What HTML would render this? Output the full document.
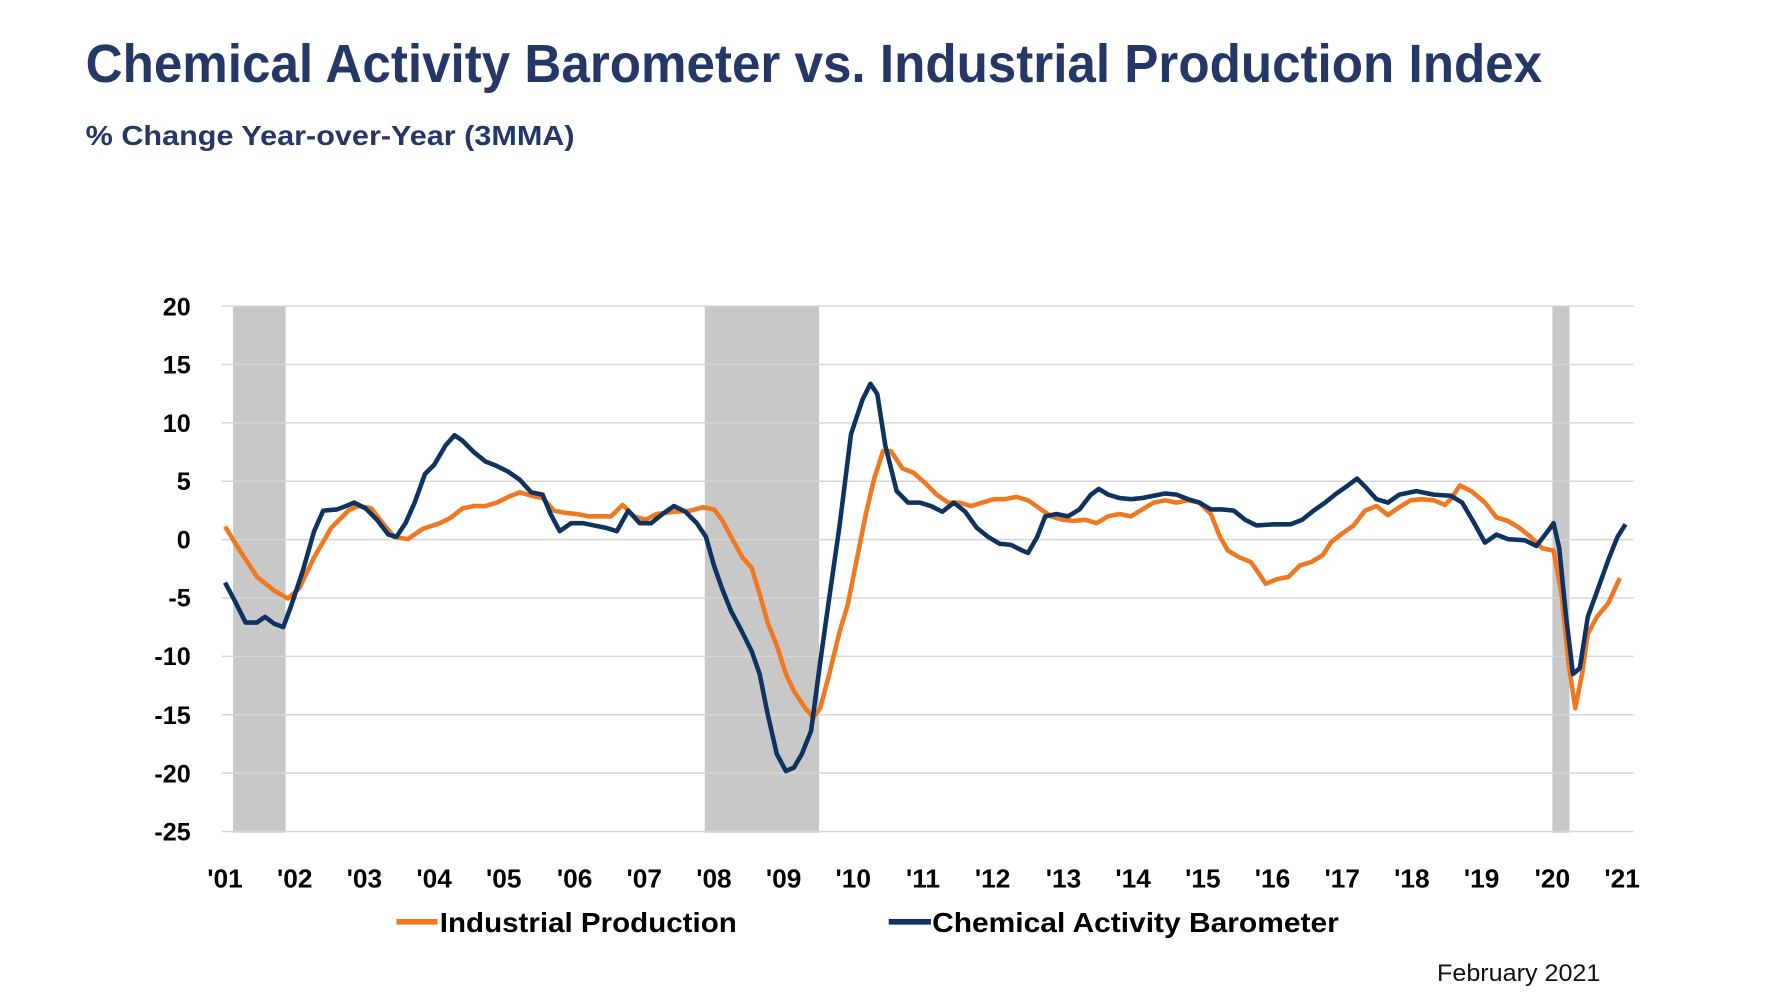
<!DOCTYPE html>
<html><head><meta charset="utf-8"><style>
html,body{margin:0;padding:0;background:#fff;}
svg{display:block;}
</style></head><body>
<svg width="1782" height="1002" viewBox="0 0 1560 877.2" preserveAspectRatio="none" xmlns="http://www.w3.org/2000/svg">
<rect width="1560" height="877.2" fill="#fff"/>
<text x="75" y="72" font-family="Liberation Sans, sans-serif" font-weight="bold" font-size="47" fill="#253766" textLength="1275" lengthAdjust="spacingAndGlyphs">Chemical Activity Barometer vs. Industrial Production Index</text>
<text x="75" y="127" font-family="Liberation Sans, sans-serif" font-weight="bold" font-size="24" fill="#253766" textLength="428" lengthAdjust="spacingAndGlyphs">% Change Year-over-Year (3MMA)</text>
<g fill="#c8c8c8">
<rect x="204" y="268" width="46" height="461"/>
<rect x="617" y="268" width="100" height="461"/>
<rect x="1359" y="268" width="15" height="461"/>
</g>
<g stroke="#d6d6d6" stroke-width="1.3">
<line x1="194" x2="1430" y1="268" y2="268"/>
<line x1="194" x2="1430" y1="319.1" y2="319.1"/>
<line x1="194" x2="1430" y1="370.2" y2="370.2"/>
<line x1="194" x2="1430" y1="421.3" y2="421.3"/>
<line x1="194" x2="1430" y1="472.4" y2="472.4"/>
<line x1="194" x2="1430" y1="523.5" y2="523.5"/>
<line x1="194" x2="1430" y1="574.6" y2="574.6"/>
<line x1="194" x2="1430" y1="625.7" y2="625.7"/>
<line x1="194" x2="1430" y1="676.8" y2="676.8"/>
<line x1="194" x2="1430" y1="727.9" y2="727.9"/>
</g>
<g font-family="Liberation Sans, sans-serif" font-weight="bold" font-size="22" fill="#000" text-anchor="end">
<text x="167" y="276">20</text><text x="167" y="327">15</text><text x="167" y="378">10</text>
<text x="167" y="429">5</text><text x="167" y="480">0</text><text x="167" y="531">-5</text>
<text x="167" y="582">-10</text><text x="167" y="634">-15</text><text x="167" y="685">-20</text><text x="167" y="736">-25</text>
</g>
<g font-family="Liberation Sans, sans-serif" font-weight="bold" font-size="23" fill="#000" text-anchor="middle">
<text x="197" y="777">'01</text><text x="258" y="777">'02</text><text x="319" y="777">'03</text><text x="380" y="777">'04</text><text x="441" y="777">'05</text><text x="503" y="777">'06</text><text x="564" y="777">'07</text><text x="625" y="777">'08</text><text x="686" y="777">'09</text><text x="747" y="777">'10</text><text x="808" y="777">'11</text><text x="869" y="777">'12</text><text x="931" y="777">'13</text><text x="992" y="777">'14</text><text x="1053" y="777">'15</text><text x="1114" y="777">'16</text><text x="1175" y="777">'17</text><text x="1236" y="777">'18</text><text x="1297" y="777">'19</text><text x="1359" y="777">'20</text><text x="1420" y="777">'21</text>
</g>
<polyline fill="none" stroke="#f07820" stroke-width="4" stroke-linejoin="round" points="197,461 210,482 225,505 240,517 252,524 262,515 275,488 290,462 305,447 313,443 325,445 335,458 345,470 357,472 370,463 385,458 395,453 405,445 415,443 425,443 435,440 445,435 455,431 465,434 475,436 485,447 495,449 505,450 515,452 525,452 535,452 545,442 555,452 565,455 575,450 590,448 605,447 615,444 625,446 632,455 640,470 650,488 658,497 665,520 672,545 680,565 688,590 695,605 705,620 712,628 718,620 726,590 735,553 742,530 750,490 758,450 765,420 773,395 780,395 790,410 800,414 810,423 820,433 830,440 840,440 850,443 860,440 870,437 880,437 890,435 900,438 910,445 920,452 930,455 940,456 950,455 960,458 970,452 980,450 990,452 1000,446 1010,440 1020,438 1030,440 1040,438 1050,440 1060,450 1068,470 1075,482 1085,488 1095,492 1102,502 1108,511 1118,507 1128,505 1138,495 1148,492 1158,486 1165,475 1175,467 1185,460 1195,447 1205,443 1215,451 1225,444 1235,438 1245,437 1255,438 1265,442 1270,437 1278,425 1288,430 1300,440 1310,453 1320,456 1330,462 1340,470 1350,480 1360,482 1367,520 1373,580 1379,620 1385,590 1390,555 1398,540 1408,528 1418,506"/>
<polyline fill="none" stroke="#0f3360" stroke-width="4" stroke-linejoin="round" points="197,510 205,525 215,545 225,545 232,540 240,546 248,549 255,530 265,500 275,465 283,447 295,446 303,443 310,440 320,445 330,455 340,468 347,470 355,458 363,440 372,415 380,407 390,390 398,381 405,386 415,396 425,404 435,408 445,413 455,420 465,431 475,433 482,450 490,465 500,458 510,458 520,460 530,462 540,465 550,447 560,458 570,458 580,450 590,443 600,448 610,458 618,470 625,495 632,515 640,535 648,550 658,570 665,590 672,625 680,660 688,675 695,672 702,660 710,640 718,580 725,530 735,460 745,380 755,350 762,336 768,345 775,390 785,430 795,440 805,440 815,443 825,448 835,440 845,448 855,462 865,470 875,476 885,477 895,482 900,484 908,470 915,452 925,450 935,452 945,446 955,433 962,428 970,433 980,436 990,437 1000,436 1010,434 1020,432 1030,433 1040,437 1050,440 1060,446 1070,446 1080,447 1090,455 1100,460 1115,459 1130,459 1140,455 1150,447 1160,440 1170,432 1180,425 1188,419 1195,426 1205,437 1215,440 1225,433 1240,430 1255,433 1270,434 1280,440 1290,457 1300,475 1310,468 1320,472 1335,473 1345,478 1355,465 1360,458 1365,480 1371,540 1377,590 1383,585 1390,540 1398,518 1408,490 1416,470 1423,459"/>
<line x1="347" x2="383" y1="807" y2="807" stroke="#f07820" stroke-width="5"/>
<text x="385" y="816" font-family="Liberation Sans, sans-serif" font-weight="bold" font-size="24" fill="#000" textLength="260" lengthAdjust="spacingAndGlyphs">Industrial Production</text>
<line x1="778" x2="815" y1="807" y2="807" stroke="#0f3360" stroke-width="5"/>
<text x="816" y="816" font-family="Liberation Sans, sans-serif" font-weight="bold" font-size="24" fill="#000" textLength="356" lengthAdjust="spacingAndGlyphs">Chemical Activity Barometer</text>
<text x="1258" y="859" font-family="Liberation Sans, sans-serif" font-size="21" fill="#111" textLength="143" lengthAdjust="spacingAndGlyphs">February 2021</text>
</svg>
</body></html>
